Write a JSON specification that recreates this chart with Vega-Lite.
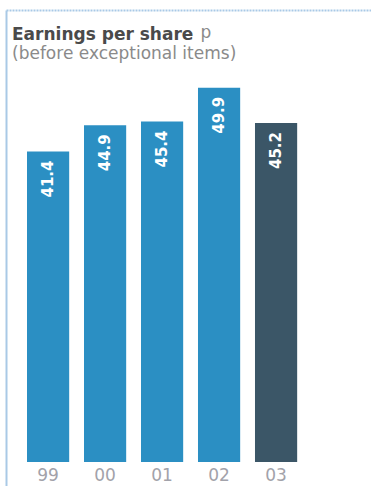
{
  "$schema": "https://vega.github.io/schema/vega-lite/v6.json",
  "autosize": {"type": "none"},
  "padding": {"top": 10, "left": 6, "right": 0, "bottom": 0},
  "width": 365,
  "height": 476,
  "background": "white",
  "config": {"view": {"stroke": null}, "font": "DejaVu Sans"},
  "title": {
    "text": "Earnings per share",
    "subtitle": "(before exceptional items)",
    "anchor": "start",
    "frame": "group",
    "offset": -53,
    "dx": 6,
    "font": "DejaVu Sans",
    "fontSize": 17,
    "fontWeight": "bold",
    "color": "#4a4a4a",
    "subtitleFont": "DejaVu Sans",
    "subtitleFontSize": 17,
    "subtitleColor": "#8a8a8a",
    "subtitlePadding": 2
  },
  "data": {
    "values": [
      {"year": "99", "eps": 41.4, "kind": "past"},
      {"year": "00", "eps": 44.9, "kind": "past"},
      {"year": "01", "eps": 45.4, "kind": "past"},
      {"year": "02", "eps": 49.9, "kind": "past"},
      {"year": "03", "eps": 45.2, "kind": "current"}
    ]
  },
  "resolve": {"axis": {"x": "independent"}},
  "layer": [
    {
      "mark": {"type": "bar"},
      "encoding": {
        "x": {
          "field": "year", "type": "nominal", "sort": null,
          "scale": {"paddingInner": 0.26, "paddingOuter": 0.832, "align": 0.2215},
          "axis": {
            "orient": "bottom", "offset": -24, "domain": false, "ticks": false,
            "labelAngle": 0, "labelFontSize": 17, "labelColor": "#a2a2aa",
            "labelPadding": 5, "title": null, "labelFont": "DejaVu Sans"
          }
        },
        "y": {
          "field": "eps", "type": "quantitative",
          "scale": {"domain": [-3.2, 60.27], "nice": false, "zero": false},
          "axis": {
            "orient": "left", "domain": true, "domainColor": "#a9c9e6", "domainWidth": 2,
            "ticks": false, "labels": false, "grid": false,
            "title": "p", "titleAngle": 0, "titleX": 194, "titleY": 27,
            "titleAlign": "left", "titleBaseline": "alphabetic",
            "titleFontWeight": "normal", "titleFontSize": 17, "titleColor": "#8a8a8a",
            "titleFont": "DejaVu Sans"
          }
        },
        "color": {
          "field": "kind", "type": "nominal",
          "scale": {"domain": ["past", "current"], "range": ["#2b8fc3", "#3b5667"]},
          "legend": null
        }
      }
    },
    {
      "mark": {
        "type": "text", "angle": 270, "align": "right", "baseline": "middle",
        "dx": -9, "color": "white", "fontSize": 15, "fontWeight": "bold", "font": "DejaVu Sans"
      },
      "encoding": {
        "x": {
          "field": "year", "type": "nominal", "sort": null,
          "axis": {
            "orient": "top", "domain": true, "domainColor": "#a9c9e6", "domainWidth": 2,
            "domainDash": [2, 1], "ticks": false, "labels": false, "title": null
          }
        },
        "y": {"field": "eps", "type": "quantitative"},
        "text": {"field": "eps", "type": "quantitative", "format": ".1f"}
      }
    }
  ]
}
